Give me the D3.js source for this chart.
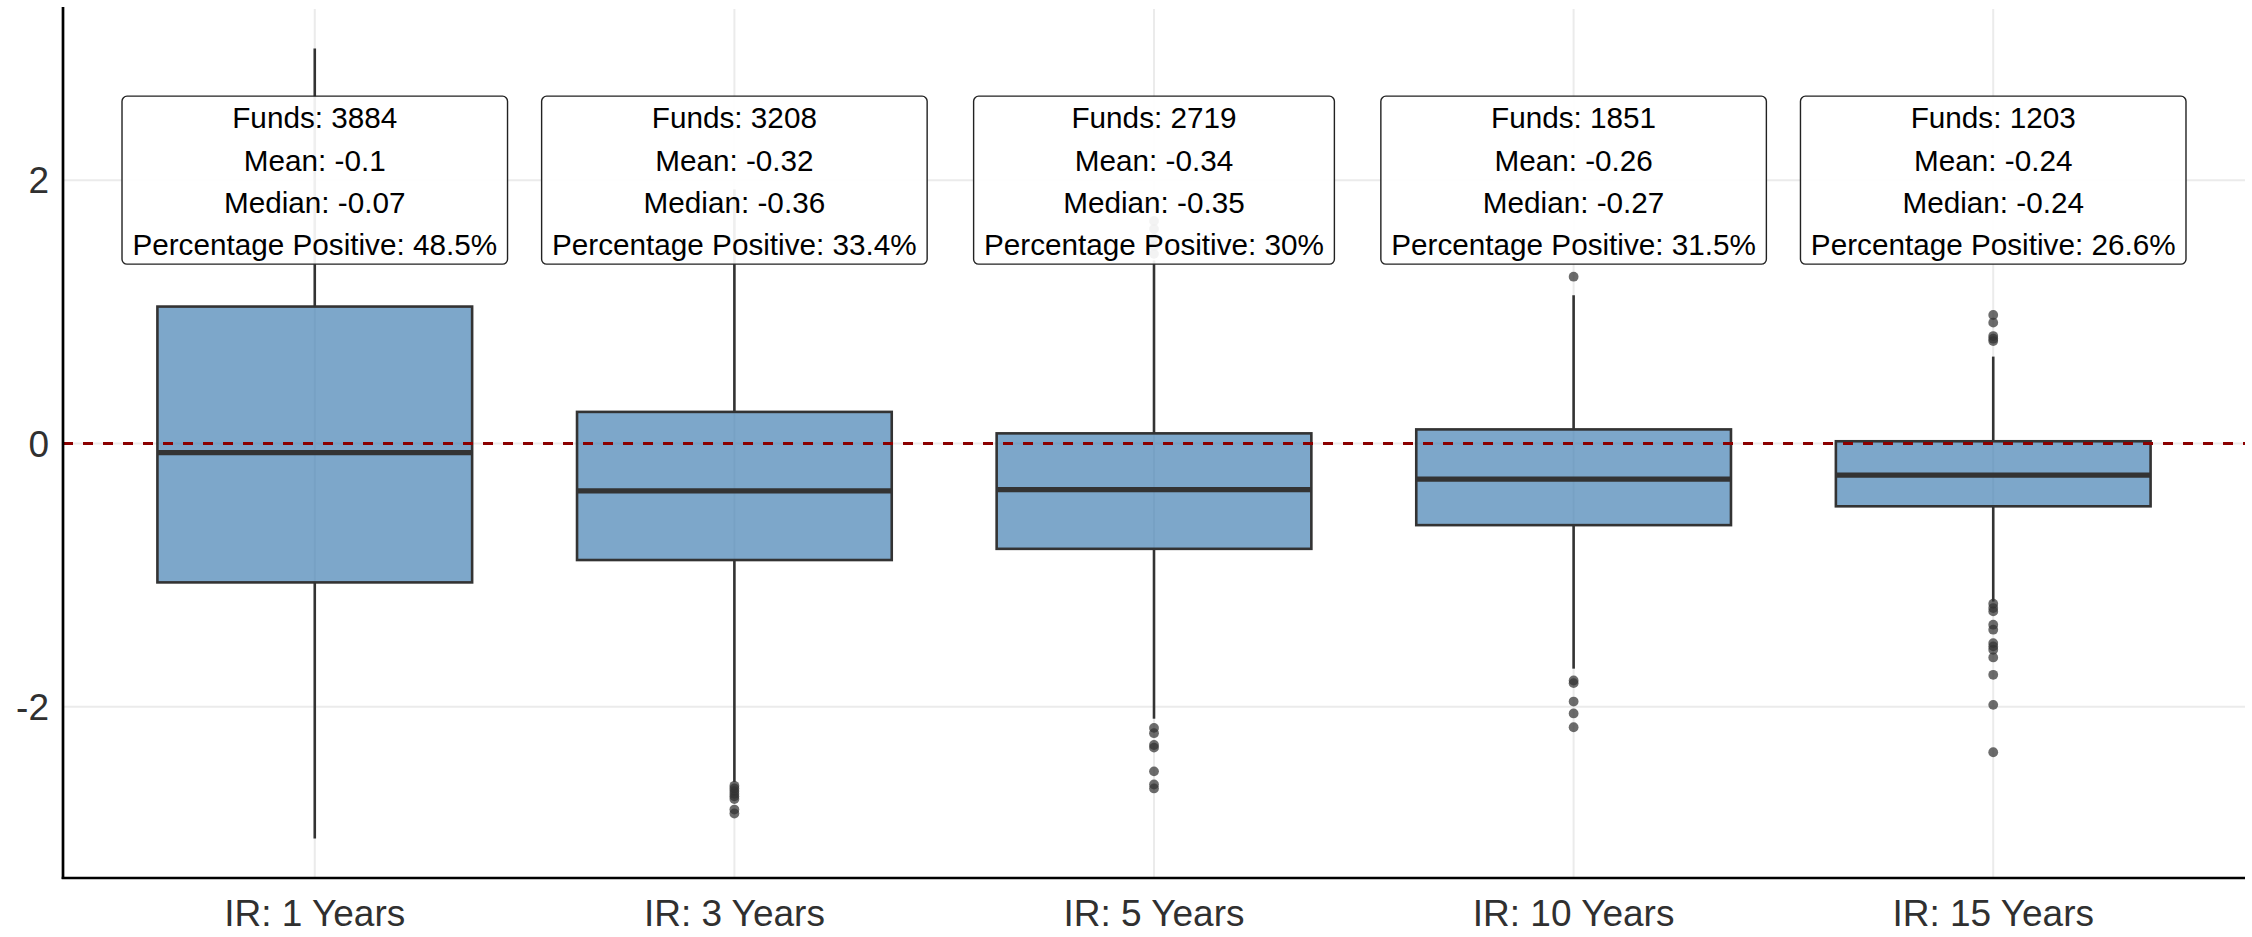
<!DOCTYPE html>
<html>
<head>
<meta charset="utf-8">
<script src="https://cdn.jsdelivr.net/npm/d3@7"></script>
<style>
  html, body { margin: 0; padding: 0; background: #ffffff; }
  svg { display: block; font-family: "Liberation Sans", Arial, Helvetica, sans-serif; }
</style>
</head>
<body>
<svg id="chart" width="2252" height="937"></svg>
<script>
// Information-ratio distributions by look-back horizon
const categories = ["IR: 1 Years", "IR: 3 Years", "IR: 5 Years", "IR: 10 Years", "IR: 15 Years"];
const funds = [3884, 3208, 2719, 1851, 1203];
const means = [-0.1, -0.32, -0.34, -0.26, -0.24];
const medians = [-0.07, -0.36, -0.35, -0.27, -0.24];
const pctPositive = [48.5, 33.4, 30, 31.5, 26.6];

const q1 = [-1.055, -0.885, -0.80, -0.62, -0.477];
const q3 = [1.04, 0.24, 0.077, 0.107, 0.017];
const whiskerLow = [-3, -2.57, -2.09, -1.71, -1.20];
const whiskerHigh = [3, 1.93, 1.39, 1.126, 0.66];

const outliers1Y = [];
const outliers3Y = [-2.60, -2.62, -2.64, -2.66, -2.68, -2.70, -2.78, -2.81];
const outliers5Y = [1.44, 1.50, 1.56, 1.63, 1.69, -2.16, -2.20, -2.29, -2.31, -2.49, -2.59, -2.62];
const outliers10Y = [1.267, -1.80, -1.82, -1.96, -2.05, -2.155];
const outliers15Y = [0.976, 0.918, 0.816, 0.796, 0.778, -1.217, -1.25, -1.275, -1.376, -1.414,
                     -1.516, -1.541, -1.567, -1.625, -1.757, -1.985, -2.345];
const outlierSets = [outliers1Y, outliers3Y, outliers5Y, outliers10Y, outliers15Y];

const yTicks = [-2, 0, 2];
const yDomain = [-3.3, 3.3];
const labelY = 2;

(function draw() {
  const svg = d3.select("#chart");
  const panelLeft = 63, panelRight = 2245, panelTop = 9, panelBottom = 878;

  const x = d3.scalePoint().domain(categories).range([panelLeft, panelRight]).padding(0.6);
  const y = d3.scaleLinear().domain(yDomain).range([panelBottom, panelTop]);
  const boxW = x.step() * 0.75;

  const boxes = categories.map((c, i) => ({
    cat: c, q1: q1[i], q3: q3[i], med: medians[i],
    lo: whiskerLow[i], hi: whiskerHigh[i], out: outlierSets[i],
    lines: [
      `Funds: ${funds[i]}`,
      `Mean: ${means[i]}`,
      `Median: ${medians[i]}`,
      `Percentage Positive: ${pctPositive[i]}%`
    ]
  }));

  // grid
  const grid = svg.append("g").attr("stroke", "#ebebeb").attr("stroke-width", 2);
  grid.selectAll("line.h").data(yTicks).join("line").attr("class", "h")
    .attr("x1", panelLeft).attr("x2", panelRight)
    .attr("y1", d => y(d)).attr("y2", d => y(d));
  grid.selectAll("line.v").data(categories).join("line").attr("class", "v")
    .attr("x1", d => x(d)).attr("x2", d => x(d))
    .attr("y1", panelTop).attr("y2", panelBottom);

  // boxplots
  const g = svg.append("g").selectAll("g").data(boxes).join("g");
  g.append("line")
    .attr("x1", d => x(d.cat)).attr("x2", d => x(d.cat))
    .attr("y1", d => y(d.hi)).attr("y2", d => y(d.q3))
    .attr("stroke", "#333333").attr("stroke-width", 2.6);
  g.append("line")
    .attr("x1", d => x(d.cat)).attr("x2", d => x(d.cat))
    .attr("y1", d => y(d.q1)).attr("y2", d => y(d.lo))
    .attr("stroke", "#333333").attr("stroke-width", 2.6);
  g.append("rect")
    .attr("x", d => x(d.cat) - boxW / 2).attr("width", boxW)
    .attr("y", d => y(d.q3)).attr("height", d => y(d.q1) - y(d.q3))
    .attr("fill", "steelblue").attr("fill-opacity", 0.7)
    .attr("stroke", "#333333").attr("stroke-width", 2.6);
  g.append("line")
    .attr("x1", d => x(d.cat) - boxW / 2).attr("x2", d => x(d.cat) + boxW / 2)
    .attr("y1", d => y(d.med)).attr("y2", d => y(d.med))
    .attr("stroke", "#333333").attr("stroke-width", 5.2);
  g.selectAll("circle").data(d => d.out.map(v => ({cat: d.cat, v}))).join("circle")
    .attr("cx", d => x(d.cat)).attr("cy", d => y(d.v)).attr("r", 4.9)
    .attr("fill", "#333333").attr("fill-opacity", 0.72);

  // zero reference line
  svg.append("line")
    .attr("x1", panelLeft).attr("x2", panelRight)
    .attr("y1", y(0)).attr("y2", y(0))
    .attr("stroke", "#8b0000").attr("stroke-width", 2.8)
    .attr("stroke-dasharray", "10,10");

  // axis lines
  svg.append("line").attr("x1", panelLeft).attr("x2", panelLeft)
    .attr("y1", panelTop - 2).attr("y2", panelBottom + 1)
    .attr("stroke", "#000").attr("stroke-width", 2.7);
  svg.append("line").attr("x1", panelLeft - 1.3).attr("x2", panelRight)
    .attr("y1", panelBottom).attr("y2", panelBottom)
    .attr("stroke", "#000").attr("stroke-width", 2.7);

  // tick labels
  svg.append("g").selectAll("text").data(yTicks).join("text")
    .attr("x", 49).attr("y", d => y(d)).attr("dy", "0.36em")
    .attr("text-anchor", "end").attr("font-size", 37).attr("fill", "#303030")
    .text(d => d);
  svg.append("g").selectAll("text").data(categories).join("text")
    .attr("x", d => x(d)).attr("y", 926)
    .attr("text-anchor", "middle").attr("font-size", 37).attr("fill", "#303030")
    .text(d => d);

  // summary labels
  const lineH = 42.2, fs = 29.7, pad = 10.4;
  const lab = svg.append("g").selectAll("g").data(boxes).join("g")
    .attr("transform", d => `translate(${x(d.cat)},${y(labelY)})`);
  const rects = lab.append("rect")
    .attr("fill", "#ffffff").attr("fill-opacity", 0.92)
    .attr("stroke", "#222222").attr("stroke-width", 1.4)
    .attr("rx", 5).attr("ry", 5);
  const texts = lab.append("text").attr("font-size", fs).attr("fill", "#000").attr("text-anchor", "middle");
  texts.selectAll("tspan").data(d => d.lines).join("tspan")
    .attr("x", 0).attr("y", (d, i) => (i - 1.5) * lineH + 11.5)
    .text(d => d);
  texts.each(function(d) {
    let w = 0;
    d3.select(this).selectAll("tspan").each(function() { w = Math.max(w, this.getComputedTextLength()); });
    d.boxWidth = w + 2 * pad;
  });
  const boxH = lineH * 4 - 0.8;
  rects.attr("x", d => -d.boxWidth / 2).attr("width", d => d.boxWidth)
    .attr("y", -boxH / 2).attr("height", boxH);
})();
</script>
</body>
</html>
